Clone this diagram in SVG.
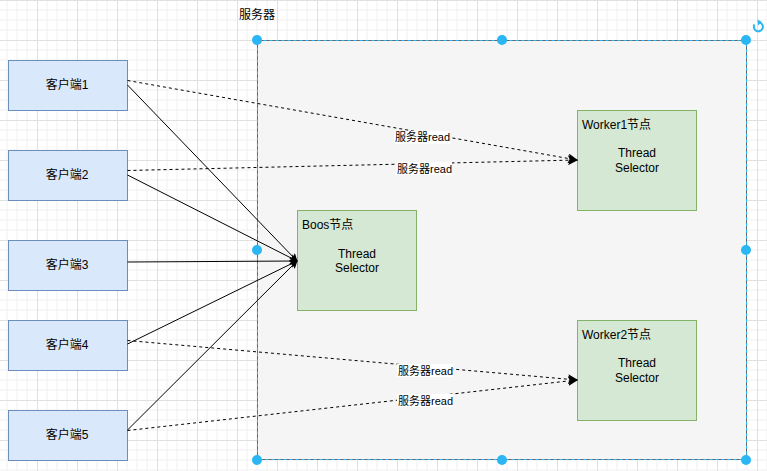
<svg xmlns="http://www.w3.org/2000/svg" width="767" height="471" viewBox="0 0 767 471">
  <style>
    text { font-family: "Liberation Sans", "Noto Sans CJK SC", sans-serif; font-size: 12px; fill: #000; }
    .client rect { fill: #dae8fc; stroke: #6c8ebf; stroke-width: 1; }
    .sel rect { fill: #d5e8d4; stroke: #82b366; stroke-width: 1; }
    .mid { text-anchor: middle; }
    .solid { stroke: #000; stroke-width: 1; fill: none; }
    .dash { stroke: #000; stroke-width: 1; fill: none; stroke-dasharray: 3 3; }
    .lbl rect { fill: #fff; }
    .lbl text { font-size: 11px; }
    .handle { fill: #29b6f2; }
  </style>
  <defs>
    <pattern id="grid" patternUnits="userSpaceOnUse" x="-3" y="0" width="40" height="40">
      <path d="M10 0V40M20 0V40M30 0V40M0 10H40M0 20H40M0 30H40" stroke="#f0f0f0" stroke-width="1" fill="none"/>
      <path d="M0.5 0V40M0 0.5H40" stroke="#e0e0e0" stroke-width="1" fill="none"/>
    </pattern>
    <marker id="arrow" viewBox="0 0 10 10" refX="9" refY="5" markerWidth="8" markerHeight="8" markerUnits="userSpaceOnUse" orient="auto">
      <path d="M0 0L10 5L0 10L2 5Z" fill="#000"/>
    </marker>
    <marker id="arrowB" viewBox="0 0 10 10" refX="9" refY="5" markerWidth="10" markerHeight="10" markerUnits="userSpaceOnUse" orient="auto">
      <path d="M0 0L10 5L0 10L2 5Z" fill="#000"/>
    </marker>
  </defs>

  <!-- canvas grid -->
  <rect width="767" height="471" fill="#fff"/>
  <rect width="767" height="471" fill="url(#grid)"/>

  <!-- server container -->
  <g id="server">
    <text x="239" y="19">服务器</text>
    <rect x="257.5" y="40.5" width="489" height="419" fill="#f5f5f5" stroke="#666" stroke-width="1"/>
    <rect x="257.5" y="40.5" width="489" height="419" fill="none" stroke="#29b6f2" stroke-width="1" stroke-dasharray="3 3"/>
  </g>

  <!-- clients -->
  <g id="client1" class="client"><rect x="8.5" y="60.5" width="119" height="50"/><text class="mid" x="67" y="89">客户端1</text></g>
  <g id="client2" class="client"><rect x="8.5" y="150.5" width="119" height="50"/><text class="mid" x="67" y="179">客户端2</text></g>
  <g id="client3" class="client"><rect x="8.5" y="240.5" width="119" height="50"/><text class="mid" x="67" y="269">客户端3</text></g>
  <g id="client4" class="client"><rect x="8.5" y="320.5" width="119" height="50"/><text class="mid" x="67" y="349">客户端4</text></g>
  <g id="client5" class="client"><rect x="8.5" y="410.5" width="119" height="50"/><text class="mid" x="67" y="439">客户端5</text></g>

  <!-- selector nodes -->
  <g id="boss" class="sel">
    <rect x="297.5" y="210.5" width="119" height="100"/>
    <text x="302" y="229">Boos节点</text>
    <text class="mid" x="357" y="258">Thread</text>
    <text class="mid" x="357" y="272">Selector</text>
  </g>
  <g id="worker1" class="sel">
    <rect x="577.5" y="110.5" width="119" height="100"/>
    <text x="582" y="129">Worker1节点</text>
    <text class="mid" x="637" y="157">Thread</text>
    <text class="mid" x="637" y="172">Selector</text>
  </g>
  <g id="worker2" class="sel">
    <rect x="577.5" y="320.5" width="119" height="100"/>
    <text x="582" y="339">Worker2节点</text>
    <text class="mid" x="637" y="367">Thread</text>
    <text class="mid" x="637" y="382">Selector</text>
  </g>

  <!-- connectors -->
  <g id="connectors">
    <path class="solid" d="M127.5 85L297 261" marker-end="url(#arrow)"/>
    <path class="solid" d="M127.5 175L297 261" marker-end="url(#arrow)"/>
    <path class="solid" d="M127.5 262L297 261" marker-end="url(#arrow)"/>
    <path class="solid" d="M127.5 344L297 261" marker-end="url(#arrow)"/>
    <path class="solid" d="M127.5 430L297 261" marker-end="url(#arrow)"/>

    <path class="dash" d="M127.5 80.5L577 160" marker-end="url(#arrowB)"/>
    <path class="dash" d="M127.5 170.5L577 160" marker-end="url(#arrowB)"/>
    <path class="dash" d="M127.5 340.5L577 380" marker-end="url(#arrowB)"/>
    <path class="dash" d="M127.5 430.5L577 380" marker-end="url(#arrowB)"/>

    <g class="lbl">
      <rect x="394" y="131" width="56" height="13"/><text x="395" y="141">服务器read</text>
      <rect x="396" y="162" width="56" height="13"/><text x="397" y="173">服务器read</text>
      <rect x="397" y="364" width="56" height="13"/><text x="398" y="375">服务器read</text>
      <rect x="397" y="394" width="56" height="13"/><text x="398" y="405">服务器read</text>
    </g>
  </g>

  <!-- selection handles -->
  <g id="handles">
    <circle class="handle" cx="257" cy="40" r="5"/>
    <circle class="handle" cx="502" cy="40" r="5"/>
    <circle class="handle" cx="746" cy="40" r="5"/>
    <circle class="handle" cx="257" cy="250" r="5"/>
    <circle class="handle" cx="746" cy="250" r="5"/>
    <circle class="handle" cx="257" cy="460" r="5"/>
    <circle class="handle" cx="502" cy="460" r="5"/>
    <circle class="handle" cx="746" cy="460" r="5"/>
    <path d="M754.5 24.5A4.5 4.5 0 1 0 760 22.6" fill="none" stroke="#29b6f2" stroke-width="2"/>
    <path d="M757.5 19.5L762 22L758 25.5Z" fill="#29b6f2"/>
  </g>
</svg>
